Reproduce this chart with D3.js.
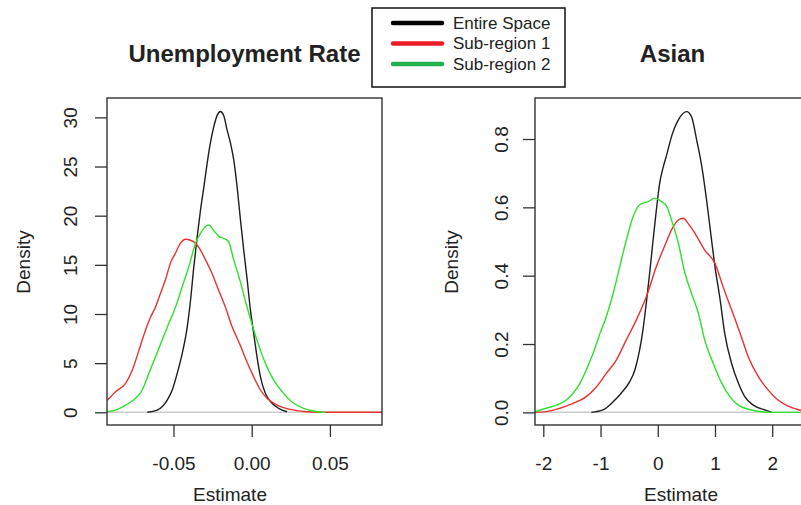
<!DOCTYPE html>
<html>
<head>
<meta charset="utf-8">
<script src="https://cdn.jsdelivr.net/npm/d3@7"></script>
<style>
  body { margin: 0; background: #fff; }
  text { font-family: "Liberation Sans", Arial, sans-serif; fill: #222; }
</style>
</head>
<body>
<script>
// density curves, [estimate, density]
const unempEntire = [[-0.0667,0],[-0.0604,0.23],[-0.054,1.25],[-0.0508,2.27],[-0.0476,3.97],[-0.0444,6.0],[-0.0412,8.7],[-0.0391,11.4],[-0.037,14.8],[-0.0348,17.9],[-0.0327,20.6],[-0.0306,22.9],[-0.0285,25.3],[-0.0264,27.4],[-0.0243,29.0],[-0.0221,30.2],[-0.02,30.6],[-0.0179,30.2],[-0.0157,28.7],[-0.0136,27.4],[-0.0115,25.7],[-0.0093,22.9],[-0.0072,19.6],[-0.0051,16.5],[-0.0029,13.5],[-0.0008,10.4],[0.0013,8.0],[0.0034,5.65],[0.0056,3.6],[0.0087,1.93],[0.013,0.92],[0.0172,0.41],[0.0226,0.06]];
const unempSub1 = [[-0.0925,1.2],[-0.087,2.1],[-0.0806,2.95],[-0.0763,4.3],[-0.0721,6.3],[-0.0678,8.4],[-0.0646,9.7],[-0.0615,10.7],[-0.0583,12.1],[-0.0551,13.5],[-0.0519,15.2],[-0.0487,16.2],[-0.0455,17.2],[-0.0423,17.6],[-0.0391,17.5],[-0.0359,17.2],[-0.0327,16.5],[-0.0295,15.5],[-0.0253,14.1],[-0.0211,12.4],[-0.0168,10.7],[-0.0125,8.7],[-0.0078,7.0],[-0.0035,5.3],[0.0013,3.6],[0.0056,2.27],[0.0098,1.42],[0.0162,0.74],[0.0247,0.3],[0.0353,0.06],[0.05,0],[0.0833,0]];
const unempSub2 = [[-0.0925,0.06],[-0.087,0.23],[-0.0806,0.74],[-0.0742,1.42],[-0.07,2.27],[-0.0657,3.97],[-0.0615,5.65],[-0.0572,7.35],[-0.053,9.05],[-0.0487,10.7],[-0.0444,12.8],[-0.0402,14.8],[-0.0359,17.2],[-0.0327,18.2],[-0.0295,18.9],[-0.0274,19.05],[-0.0243,18.5],[-0.0211,17.9],[-0.0179,17.7],[-0.0147,17.35],[-0.0115,15.5],[-0.0078,13.6],[-0.0035,11.0],[0.0013,8.4],[0.0056,6.3],[0.0098,4.6],[0.014,3.3],[0.0204,1.93],[0.0268,0.92],[0.0332,0.41],[0.0385,0.16],[0.0438,0.03],[0.047,0]];

const asianEntire = [[-1.16,0],[-0.957,0.007],[-0.78,0.031],[-0.64,0.056],[-0.49,0.09],[-0.4,0.124],[-0.32,0.18],[-0.26,0.24],[-0.2,0.32],[-0.14,0.41],[-0.084,0.5],[-0.026,0.59],[0.033,0.67],[0.091,0.715],[0.15,0.75],[0.24,0.807],[0.36,0.856],[0.505,0.88],[0.59,0.865],[0.68,0.797],[0.77,0.719],[0.854,0.62],[0.94,0.504],[1.0,0.426],[1.09,0.329],[1.17,0.231],[1.29,0.143],[1.41,0.085],[1.52,0.046],[1.67,0.021],[1.87,0.007],[1.99,0]];
const asianSub1 = [[-2.145,0],[-1.95,0.002],[-1.71,0.012],[-1.48,0.026],[-1.25,0.046],[-1.07,0.075],[-0.9,0.114],[-0.725,0.153],[-0.55,0.212],[-0.376,0.27],[-0.2,0.338],[-0.026,0.426],[0.14,0.495],[0.24,0.534],[0.36,0.563],[0.445,0.568],[0.53,0.553],[0.65,0.524],[0.82,0.475],[1.0,0.436],[1.14,0.368],[1.29,0.3],[1.44,0.231],[1.58,0.163],[1.76,0.104],[1.93,0.065],[2.1,0.036],[2.28,0.018],[2.48,0.007],[2.66,0.002]];
const asianSub2 = [[-2.145,0.002],[-1.95,0.012],[-1.77,0.021],[-1.6,0.036],[-1.48,0.056],[-1.36,0.085],[-1.25,0.124],[-1.13,0.173],[-1.01,0.231],[-0.9,0.28],[-0.78,0.348],[-0.665,0.426],[-0.55,0.504],[-0.43,0.573],[-0.32,0.607],[-0.17,0.617],[-0.054,0.627],[0.061,0.617],[0.15,0.605],[0.24,0.563],[0.36,0.495],[0.475,0.407],[0.59,0.348],[0.71,0.29],[0.82,0.212],[0.97,0.143],[1.12,0.085],[1.26,0.046],[1.41,0.021],[1.64,0.007],[1.99,0],[2.66,0]];

const unempXTicks = [-0.05, 0, 0.05];
const unempYTicks = [0, 5, 10, 15, 20, 25, 30];
const asianXTicks = [-2, -1, 0, 1, 2];
const asianYTicks = [0, 0.2, 0.4, 0.6, 0.8];

const legendLabels = ["Entire Space", "Sub-region 1", "Sub-region 2"];
const legendColors = ["#000000", "#ed1c24", "#22b14c"];
const lineColors = ["#1e1e1e", "#e8322e", "#2fe02f"];

const width = 801, height = 505;

// R prints a plain hyphen, not d3's unicode minus
function rFormat(spec) {
  let f = d3.format(spec);
  return function (v) { return f(v).replace("\u2212", "-"); };
}

const svg = d3.select("body").append("svg")
  .attr("width", width)
  .attr("height", height);

svg.append("rect").attr("width", width).attr("height", height).attr("fill", "#fff");

function panel(opts) {
  let x = d3.scaleLinear().domain(opts.xDomain).range([opts.left, opts.left + 275]);
  let y = d3.scaleLinear().domain(opts.yDomain).range([425, 98]);

  svg.append("clipPath").attr("id", opts.id)
    .append("rect")
    .attr("x", opts.left).attr("y", 98)
    .attr("width", 275).attr("height", 327);

  let g = svg.append("g").attr("clip-path", "url(#" + opts.id + ")");

  // R's density() zero line
  g.append("line")
    .attr("x1", opts.left).attr("x2", opts.left + 275)
    .attr("y1", y(0)).attr("y2", y(0))
    .attr("stroke", "#cccccc")
    .attr("stroke-width", 1.5);

  let line = d3.line()
    .x(function (d) { return x(d[0]); })
    .y(function (d) { return y(d[1]); })
    .curve(d3.curveMonotoneX);

  opts.series.forEach(function (s, i) {
    g.append("path")
      .datum(s)
      .attr("fill", "none")
      .attr("stroke", lineColors[i])
      .attr("stroke-width", 1.4)
      .attr("d", line);
  });

  // x axis
  let xa = svg.append("g")
    .attr("transform", "translate(0,425)")
    .call(d3.axisBottom(x).tickValues(opts.xTicks).tickSize(12).tickPadding(20)
      .tickFormat(opts.xFormat));
  xa.select(".domain").remove();

  // y axis, labels turned as in R
  let ya = svg.append("g")
    .attr("transform", "translate(" + opts.left + ",0)")
    .call(d3.axisLeft(y).tickValues(opts.yTicks).tickSize(12).tickFormat(opts.yFormat));
  ya.select(".domain").remove();
  ya.selectAll(".tick text")
    .attr("x", 0)
    .attr("y", -opts.yLabelGap)
    .attr("dy", 0)
    .attr("text-anchor", "middle")
    .attr("transform", "rotate(-90)");

  [xa, ya].forEach(function (a) {
    a.selectAll(".tick line").attr("stroke", "#333").attr("stroke-width", 1.3);
    a.selectAll(".tick text").attr("font-size", 19).attr("fill", "#222")
      .attr("font-family", "Liberation Sans, Arial, sans-serif");
  });

  // frame
  svg.append("rect")
    .attr("x", opts.left).attr("y", 98)
    .attr("width", 275).attr("height", 327)
    .attr("fill", "none")
    .attr("stroke", "#333")
    .attr("stroke-width", 1.4);

  svg.append("text")
    .attr("x", opts.left + 137.5).attr("y", 62)
    .attr("text-anchor", "middle")
    .attr("font-size", 24).attr("font-weight", "bold")
    .text(opts.title);

  svg.append("text")
    .attr("x", opts.xLabelX).attr("y", 501)
    .attr("text-anchor", "middle")
    .attr("font-size", 19)
    .text("Estimate");

  svg.append("text")
    .attr("transform", "translate(" + opts.yLabelX + ",262) rotate(-90)")
    .attr("text-anchor", "middle")
    .attr("font-size", 19)
    .text("Density");
}

panel({
  id: "clipU", left: 107, title: "Unemployment Rate",
  xDomain: [-0.0925, 0.0833], yDomain: [-1.29, 31.97],
  xTicks: unempXTicks, yTicks: unempYTicks,
  xFormat: rFormat(".2f"), yFormat: rFormat("d"),
  series: [unempEntire, unempSub1, unempSub2],
  yLabelGap: 30, xLabelX: 230, yLabelX: 30
});

panel({
  id: "clipA", left: 535, title: "Asian",
  xDomain: [-2.145, 2.66], yDomain: [-0.037, 0.92],
  xTicks: asianXTicks, yTicks: asianYTicks,
  xFormat: rFormat("d"), yFormat: rFormat(".1f"),
  series: [asianEntire, asianSub1, asianSub2],
  yLabelGap: 27, xLabelX: 681, yLabelX: 458
});

// legend
let legend = svg.append("g");
legend.append("rect")
  .attr("x", 372).attr("y", 8)
  .attr("width", 193).attr("height", 79)
  .attr("fill", "#fff")
  .attr("stroke", "#111")
  .attr("stroke-width", 1.5);

legendLabels.forEach(function (lab, i) {
  let ly = 23 + i * 20.5;
  legend.append("line")
    .attr("x1", 393).attr("x2", 442)
    .attr("y1", ly).attr("y2", ly)
    .attr("stroke", legendColors[i])
    .attr("stroke-width", 4.5)
    .attr("stroke-linecap", "round");
  legend.append("text")
    .attr("x", 453).attr("y", ly)
    .attr("dy", "0.35em")
    .attr("font-size", 17)
    .text(lab);
});
</script>
</body>
</html>
